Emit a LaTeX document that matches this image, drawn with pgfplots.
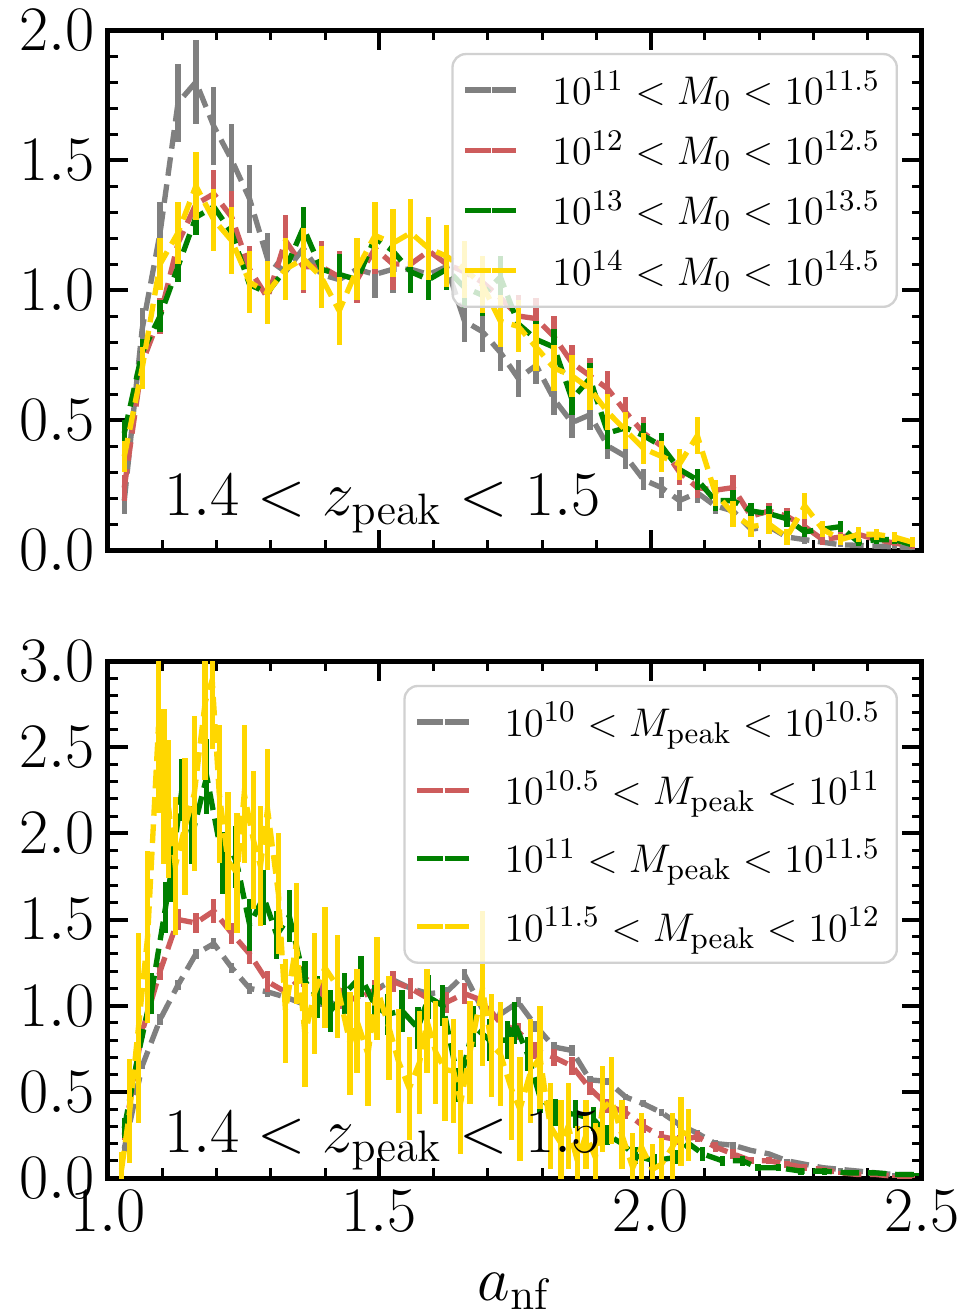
\documentclass[border=0pt]{standalone}
\usepackage{pgfplots}
\usepackage{pgfplotstable}
\pgfplotsset{compat=1.18}
\definecolor{cgray}{HTML}{808080}
\definecolor{cred}{HTML}{CD5C5C}
\definecolor{cgreen}{HTML}{008000}
\definecolor{cgold}{HTML}{FFD700}

\pgfplotstableread{
x ga gae rd rde gn gne yl yle
1.030 0.19 0.05 0.24 0.05 0.45 0.05 0.36 0.06
1.063 0.85 0.08 0.72 0.06 0.76 0.05 0.70 0.08
1.096 1.22 0.12 0.90 0.07 0.90 0.06 1.10 0.10
1.129 1.72 0.15 1.18 0.08 1.09 0.06 1.22 0.12
1.162 1.80 0.16 1.33 0.09 1.28 0.07 1.40 0.13
1.195 1.63 0.15 1.37 0.09 1.32 0.07 1.27 0.12
1.228 1.50 0.14 1.28 0.10 1.22 0.07 1.19 0.13
1.261 1.35 0.13 1.08 0.09 1.02 0.07 1.03 0.12
1.294 1.12 0.10 0.97 0.09 0.99 0.07 0.99 0.12
1.327 1.07 0.10 1.19 0.10 1.08 0.07 1.08 0.12
1.360 1.16 0.12 1.09 0.10 1.24 0.08 1.12 0.12
1.393 1.06 0.10 1.09 0.10 1.08 0.08 1.05 0.12
1.426 1.04 0.09 1.05 0.10 1.06 0.08 0.92 0.13
1.459 1.08 0.09 1.04 0.09 1.04 0.08 1.08 0.12
1.492 1.06 0.09 1.16 0.10 1.20 0.08 1.21 0.13
1.525 1.08 0.09 1.10 0.10 1.15 0.08 1.18 0.13
1.558 1.08 0.09 1.10 0.10 1.07 0.08 1.22 0.13
1.591 1.06 0.08 1.15 0.10 1.04 0.08 1.16 0.12
1.624 1.09 0.08 1.10 0.09 1.08 0.08 1.13 0.12
1.657 0.88 0.08 1.07 0.09 1.01 0.08 1.08 0.11
1.690 0.84 0.08 1.03 0.09 0.98 0.08 1.02 0.11
1.723 0.76 0.07 0.97 0.08 1.05 0.08 0.88 0.10
1.756 0.66 0.07 0.90 0.08 0.87 0.07 0.86 0.10
1.789 0.71 0.07 0.89 0.08 0.81 0.07 0.78 0.09
1.822 0.58 0.06 0.82 0.08 0.78 0.07 0.70 0.09
1.855 0.49 0.06 0.72 0.07 0.58 0.06 0.67 0.08
1.888 0.52 0.06 0.67 0.07 0.66 0.06 0.62 0.08
1.921 0.40 0.05 0.62 0.07 0.45 0.06 0.53 0.07
1.954 0.36 0.05 0.53 0.06 0.47 0.05 0.46 0.07
1.987 0.27 0.04 0.45 0.06 0.44 0.05 0.39 0.06
2.020 0.24 0.04 0.40 0.05 0.40 0.05 0.36 0.06
2.053 0.19 0.04 0.30 0.05 0.31 0.04 0.33 0.06
2.086 0.22 0.04 0.24 0.04 0.27 0.04 0.44 0.07
2.119 0.17 0.03 0.23 0.04 0.19 0.04 0.22 0.05
2.152 0.15 0.03 0.24 0.05 0.19 0.04 0.14 0.05
2.185 0.08 0.02 0.13 0.03 0.15 0.03 0.09 0.04
2.218 0.09 0.02 0.15 0.03 0.14 0.03 0.10 0.04
2.251 0.05 0.02 0.13 0.03 0.12 0.03 0.05 0.03
2.284 0.04 0.015 0.09 0.03 0.07 0.02 0.17 0.05
2.317 0.03 0.01 0.04 0.02 0.08 0.02 0.08 0.03
2.350 0.02 0.01 0.05 0.02 0.09 0.02 0.04 0.02
2.383 0.018 0.01 0.06 0.02 0.03 0.015 0.06 0.03
2.416 0.015 0.01 0.04 0.015 0.04 0.015 0.06 0.02
2.449 0.012 0.01 0.027 0.01 0.04 0.015 0.05 0.02
2.482 0.01 0.01 0.015 0.01 0.02 0.01 0.03 0.02
}\toptab

\pgfplotstableread{
x ga gae rd rde
1.030 0.17 0.02 0.25 0.03
1.063 0.65 0.02 0.85 0.04
1.096 0.92 0.03 1.20 0.05
1.129 1.12 0.03 1.50 0.06
1.162 1.30 0.03 1.48 0.06
1.195 1.36 0.03 1.55 0.07
1.228 1.22 0.03 1.42 0.06
1.261 1.10 0.03 1.30 0.06
1.294 1.08 0.03 1.14 0.06
1.327 1.05 0.03 1.08 0.06
1.360 1.01 0.03 1.17 0.06
1.393 1.02 0.03 1.08 0.06
1.426 1.01 0.03 1.04 0.06
1.459 1.05 0.03 1.04 0.06
1.492 1.09 0.03 1.09 0.06
1.525 1.15 0.03 1.14 0.06
1.558 1.10 0.03 1.10 0.06
1.591 1.07 0.03 1.04 0.06
1.624 1.08 0.03 1.02 0.06
1.657 1.18 0.03 1.07 0.06
1.690 0.98 0.03 1.03 0.06
1.723 0.95 0.03 0.90 0.05
1.756 1.02 0.03 0.85 0.05
1.789 0.88 0.03 0.74 0.05
1.822 0.76 0.03 0.70 0.05
1.855 0.74 0.03 0.65 0.05
1.888 0.57 0.02 0.52 0.04
1.921 0.56 0.02 0.42 0.04
1.954 0.47 0.02 0.38 0.04
1.987 0.43 0.02 0.30 0.04
2.020 0.38 0.02 0.24 0.03
2.053 0.31 0.02 0.22 0.03
2.086 0.26 0.02 0.24 0.03
2.119 0.20 0.02 0.18 0.03
2.152 0.19 0.02 0.14 0.03
2.185 0.16 0.01 0.10 0.02
2.218 0.14 0.01 0.10 0.02
2.251 0.10 0.01 0.08 0.02
2.284 0.08 0.01 0.06 0.02
2.317 0.06 0.01 0.05 0.01
2.350 0.05 0.01 0.03 0.01
2.383 0.04 0.01 0.02 0.01
2.416 0.03 0.01 0.02 0.01
2.449 0.02 0.01 0.01 0.01
2.482 0.02 0.01 0.01 0.01
}\bottab

\pgfplotstableread{
x y e
1.030 0.29 0.06
1.056 0.72 0.10
1.080 1.07 0.12
1.106 1.57 0.15
1.116 1.77 0.17
1.136 2.25 0.18
1.155 1.99 0.17
1.182 2.33 0.22
1.212 1.83 0.18
1.235 1.86 0.18
1.261 1.47 0.15
1.287 1.63 0.16
1.311 1.41 0.14
1.334 1.52 0.15
1.363 1.14 0.12
1.386 1.05 0.12
1.410 0.97 0.12
1.436 1.07 0.12
1.466 1.17 0.12
1.492 1.00 0.12
1.515 0.95 0.12
1.542 0.97 0.12
1.571 0.87 0.12
1.591 1.05 0.13
1.617 1.00 0.12
1.647 0.54 0.10
1.674 0.88 0.12
1.703 0.80 0.12
1.736 0.80 0.11
1.749 0.90 0.12
1.773 0.72 0.10
1.796 0.47 0.09
1.825 0.38 0.08
1.862 0.37 0.08
1.895 0.34 0.07
1.921 0.25 0.06
1.947 0.20 0.05
1.971 0.13 0.05
2.007 0.10 0.04
2.046 0.12 0.04
2.070 0.20 0.05
2.096 0.14 0.04
2.132 0.10 0.03
2.169 0.10 0.03
2.198 0.06 0.02
2.235 0.06 0.02
2.277 0.04 0.02
2.320 0.04 0.02
2.363 0.03 0.01
2.413 0.03 0.01
2.456 0.02 0.01
2.490 0.02 0.01
}\botgreen

\pgfplotstableread{
x y e
1.025 0.05 0.10
1.040 0.39 0.30
1.056 0.87 0.55
1.073 1.40 0.50
1.093 2.62 0.50
1.103 2.27 0.45
1.112 2.14 0.40
1.124 1.81 0.40
1.142 2.04 0.40
1.159 2.23 0.45
1.179 2.76 0.45
1.192 2.89 0.40
1.205 2.23 0.40
1.221 1.84 0.40
1.238 1.77 0.35
1.251 2.23 0.40
1.268 1.96 0.40
1.281 1.81 0.35
1.294 2.14 0.35
1.314 1.65 0.35
1.327 0.97 0.30
1.347 1.36 0.35
1.363 0.83 0.30
1.380 1.07 0.35
1.400 1.22 0.35
1.423 1.11 0.30
1.446 0.78 0.30
1.459 0.91 0.30
1.479 0.72 0.30
1.496 1.10 0.30
1.518 0.87 0.30
1.535 0.68 0.30
1.555 0.52 0.30
1.574 0.67 0.30
1.588 0.91 0.30
1.604 0.73 0.30
1.621 0.63 0.30
1.637 0.62 0.30
1.650 0.44 0.30
1.667 0.73 0.30
1.690 1.10 0.45
1.707 0.77 0.30
1.723 0.72 0.30
1.743 0.52 0.30
1.759 0.40 0.30
1.779 0.62 0.30
1.796 0.70 0.30
1.815 0.30 0.25
1.835 0.20 0.25
1.848 0.30 0.25
1.865 0.10 0.20
1.881 0.25 0.20
1.898 0.12 0.20
1.911 0.40 0.25
1.928 0.45 0.25
1.947 0.25 0.20
1.967 0.06 0.20
1.983 0.18 0.20
2.003 0.05 0.15
2.020 0.08 0.15
2.040 0.18 0.20
2.056 0.27 0.20
2.070 0.25 0.15
}\botyellow

\pgfplotsset{
  myaxis/.style={
    scale only axis, width=244.2pt,
    xmin=1, xmax=2.5, xtick={1,1.5,2,2.5}, minor x tick num=4,
    ytick distance=0.5, minor y tick num=4,
    tick align=inside, tick pos=both,
    major tick length=6pt, minor tick length=3pt,
    major tick style={line width=1.2pt, black},
    minor tick style={line width=0.9pt, black},
    axis line style={line width=1.5pt},
    tick label style={font=\fontsize{17.28}{20}\selectfont, scale=1.1},
    xticklabel style={/pgf/number format/.cd, fixed, fixed zerofill, precision=1},
    yticklabel style={/pgf/number format/.cd, fixed, fixed zerofill, precision=1},
    legend cell align=left,
    legend image code/.code={\path (-2.4pt,0pt) -- (13pt,0pt); \draw[##1, solid] (0pt,0pt) -- (5.4pt,0pt) (7.8pt,0pt) -- (13pt,0pt);},
    legend style={anchor=north east, draw=black!18, line width=0.7pt,
      rounded corners=4pt, fill=white, fill opacity=0.8, text opacity=1,
      font=\fontsize{12.6}{15}\selectfont, inner xsep=3pt, inner ysep=3pt,
      column sep=8pt},
  },
  ser/.style={color=#1, mark=none, line width=1.6pt, dash pattern=on 5.6pt off 2.6pt,
    error bars/.cd, y dir=both, y explicit, error mark=none,
    error bar style={solid, line width=1.6pt, color=#1}},
}

\begin{document}
\begin{tikzpicture}
\useasboundingbox (-32.4pt,9pt) rectangle (257.4pt,-385.8pt);
\begin{axis}[myaxis, at={(0pt,0pt)}, anchor=north west, height=156pt,
  ymin=0, ymax=2, xticklabels={},
  legend style={at={(0.9705,0.956)}, row sep=2.4pt}]
\addplot[ser=cgray] table[x=x, y=ga, y error=gae] {\toptab};
\addlegendentry{$10^{11} < M_0 < 10^{11.5}$}
\addplot[ser=cred] table[x=x, y=rd, y error=rde] {\toptab};
\addlegendentry{$10^{12} < M_0 < 10^{12.5}$}
\addplot[ser=cgreen] table[x=x, y=gn, y error=gne] {\toptab};
\addlegendentry{$10^{13} < M_0 < 10^{13.5}$}
\addplot[ser=cgold] table[x=x, y=yl, y error=yle] {\toptab};
\addlegendentry{$10^{14} < M_0 < 10^{14.5}$}
\node[anchor=base west, inner sep=0pt, font=\fontsize{17.28}{20}\selectfont, scale=1.1] at (rel axis cs:0.068,0.067) {$1.4 < z_{\mathrm{peak}} < 1.5$};
\end{axis}

\begin{axis}[myaxis, at={(0pt,-189.3pt)}, anchor=north west, height=155.1pt,
  ymin=0, ymax=3,
  xlabel={$a_{\mathrm{nf}}$},
  xlabel style={font=\fontsize{17.28}{20}\selectfont, scale=1.1, at={(axis description cs:0.5,-0.236)}, anchor=base},
  legend style={at={(0.9705,0.954)}, row sep=4.8pt}]
\addplot[ser=cgray] table[x=x, y=ga, y error=gae] {\bottab};
\addlegendentry{$10^{10} < M_{\mathrm{peak}} < 10^{10.5}$}
\addplot[ser=cred] table[x=x, y=rd, y error=rde] {\bottab};
\addlegendentry{$10^{10.5} < M_{\mathrm{peak}} < 10^{11}$}
\addplot[ser=cgreen] table[x=x, y=y, y error=e] {\botgreen};
\addlegendentry{$10^{11} < M_{\mathrm{peak}} < 10^{11.5}$}
\addplot[ser=cgold] table[x=x, y=y, y error=e] {\botyellow};
\addlegendentry{$10^{11.5} < M_{\mathrm{peak}} < 10^{12}$}
\node[anchor=base west, inner sep=0pt, font=\fontsize{17.28}{20}\selectfont, scale=1.1] at (rel axis cs:0.068,0.05) {$1.4 < z_{\mathrm{peak}} < 1.5$};
\end{axis}
\end{tikzpicture}
\end{document}
